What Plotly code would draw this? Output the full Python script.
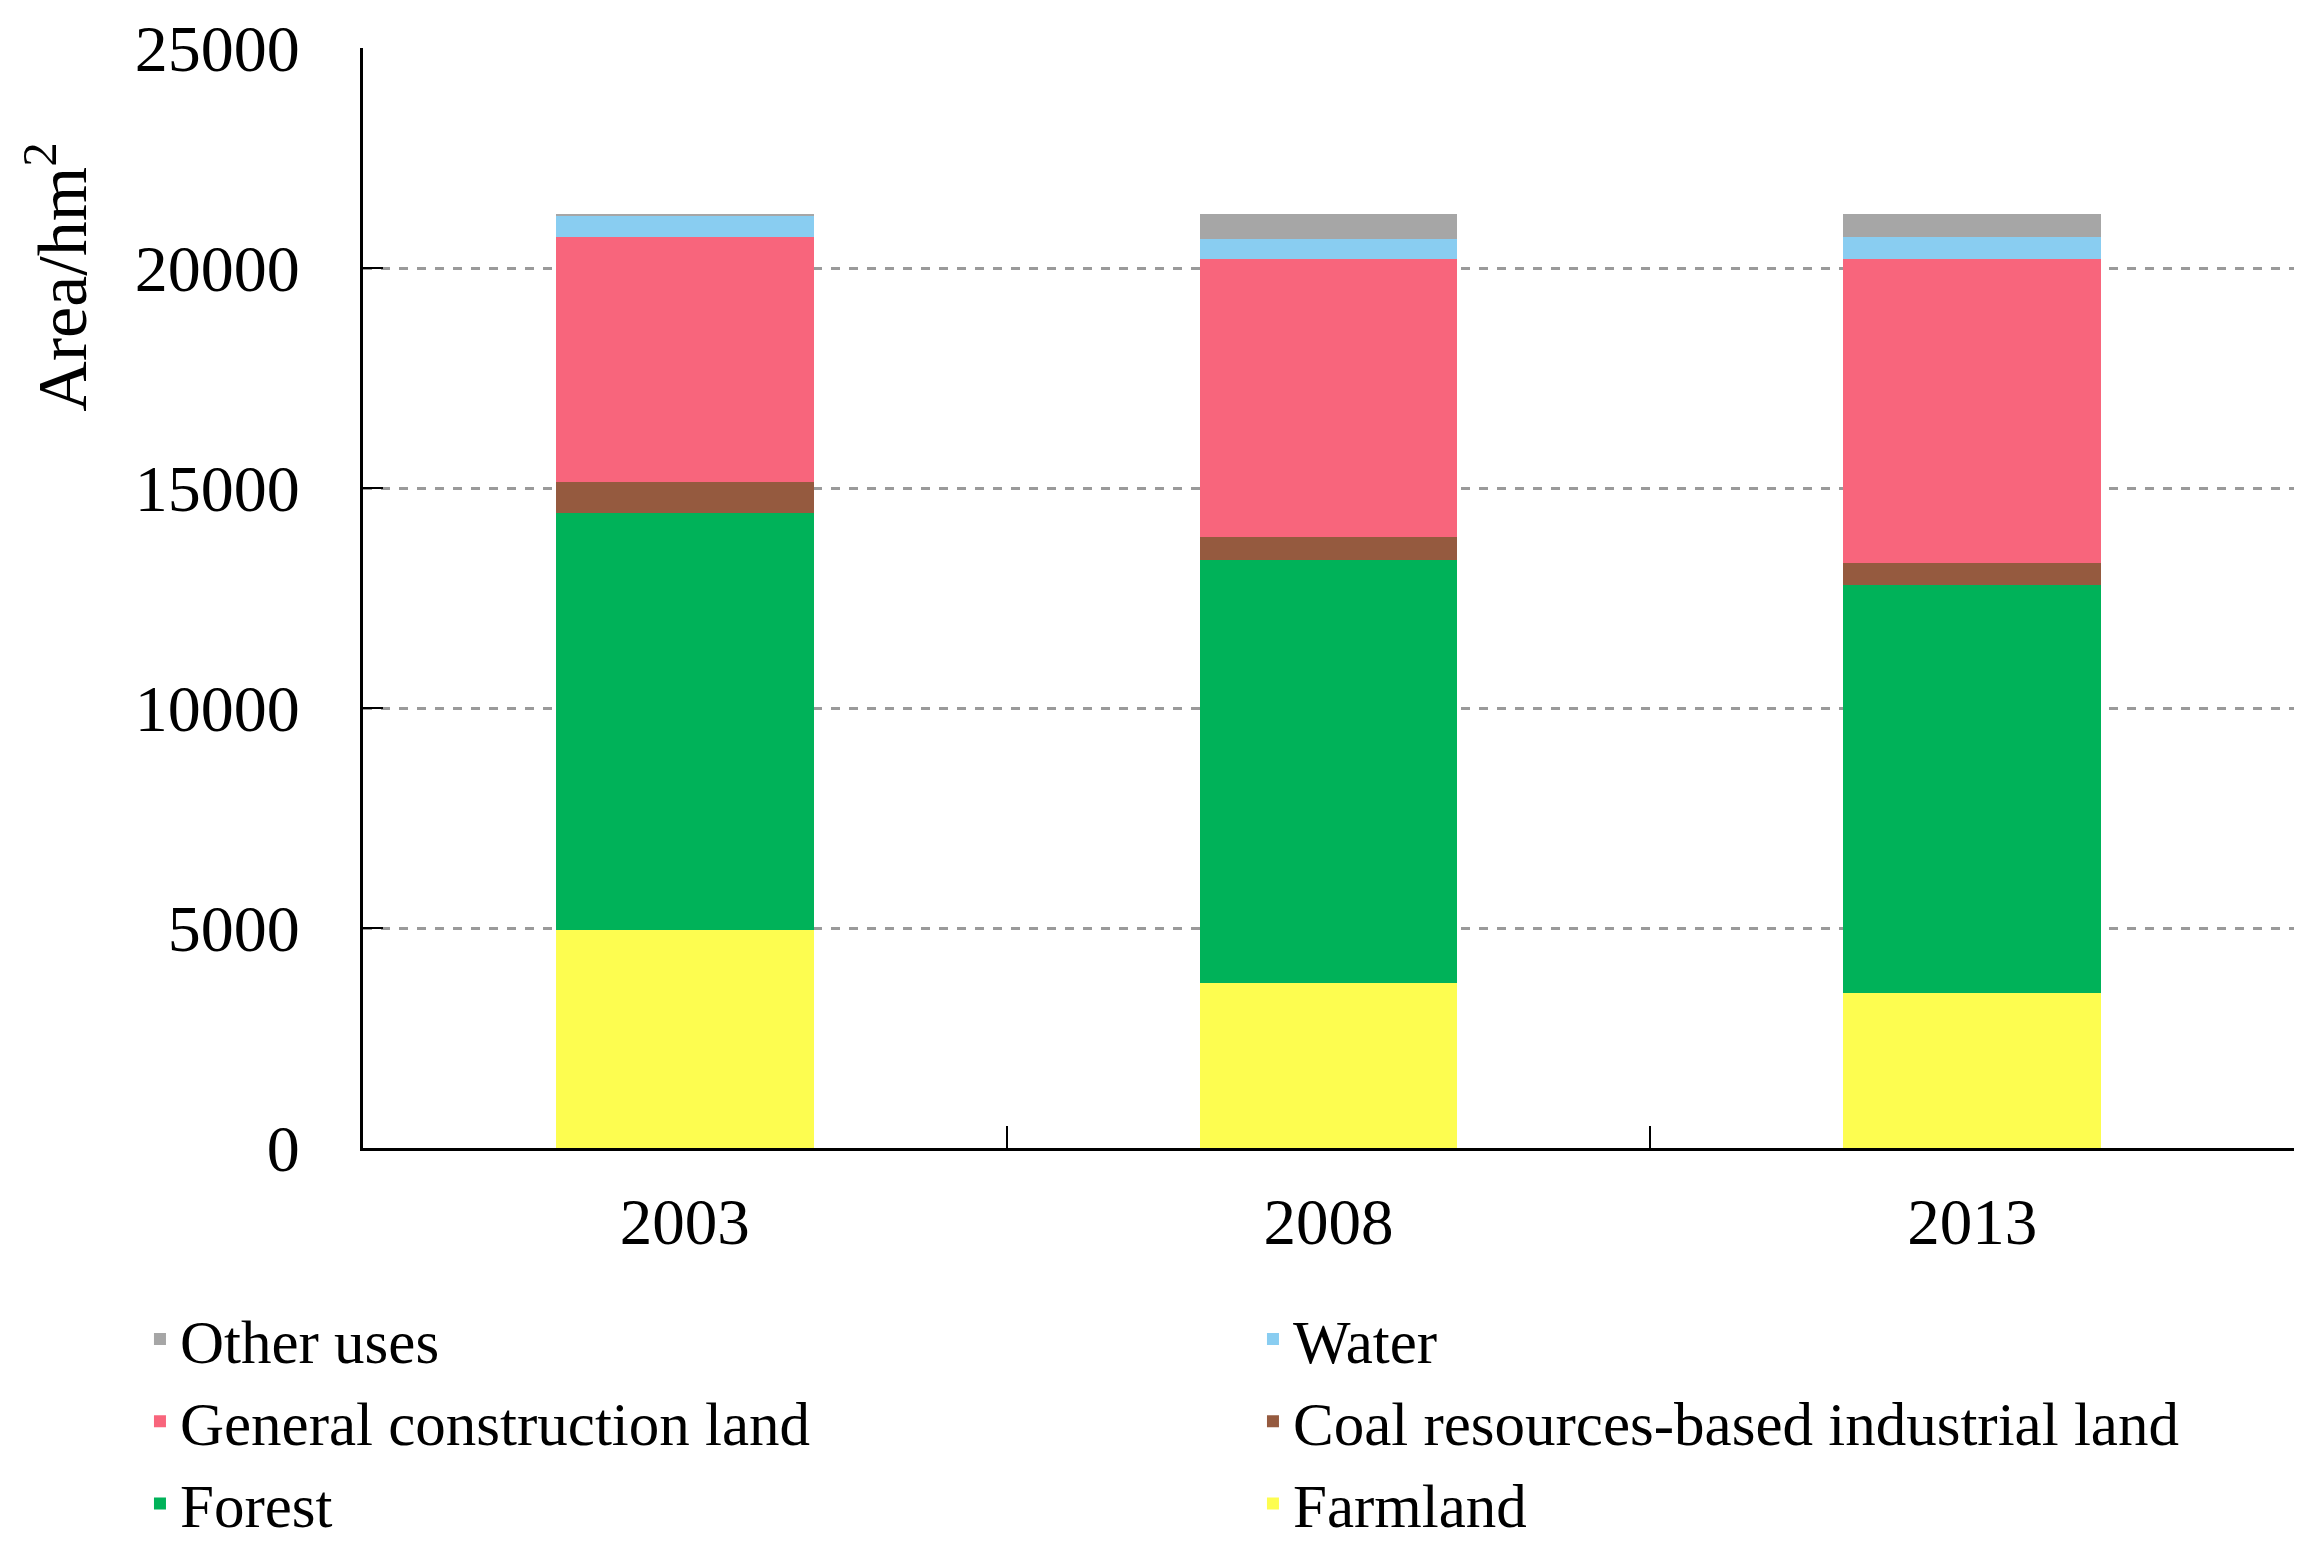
import plotly.graph_objects as go

years = ["2003", "2008", "2013"]
farmland = [4960, 3742, 3530]
forest = [9479, 9622, 9265]
coal = [704, 515, 507]
general = [5568, 6333, 6910]
water = [474, 440, 499]
other = [35, 568, 509]
y_ticks = [0, 5000, 10000, 15000, 20000, 25000]
y_ticklabels = ["0", "5000", "10000", "15000", "20000", "25000"]

series = [
    ("Farmland", farmland, "#FDFD50"),
    ("Forest", forest, "#00B259"),
    ("Coal resources-based industrial land", coal, "#955A3F"),
    ("General construction land", general, "#F8657C"),
    ("Water", water, "#89CDF1"),
    ("Other uses", other, "#A6A6A6"),
]

FONT = "Liberation Serif"
fig = go.Figure()
for name, vals, col in series:
    fig.add_trace(go.Bar(x=years, y=vals, name=name, marker=dict(color=col, line=dict(width=0))))

fig.update_layout(
    width=2318, height=1545,
    barmode="stack", bargap=0.6,
    paper_bgcolor="white", plot_bgcolor="white",
    margin=dict(l=355, r=32, t=40, b=405, autoexpand=False),
    font=dict(family=FONT, size=65, color="black"),
    showlegend=True,
    legend=dict(
        orientation="h", traceorder="reversed",
        x=-0.1155, xanchor="left", y=-0.1316, yanchor="top",
        entrywidth=1068, entrywidthmode="pixels",
        font=dict(family=FONT, size=61, color="black"),
        bgcolor="rgba(0,0,0,0)",
    ),
)
fig.update_xaxes(
    type="category", showline=True, linecolor="black", linewidth=3,
    ticks="inside", tickson="boundaries", ticklen=22, tickwidth=2, tickcolor="black",
    showgrid=False, ticklabelstandoff=15, automargin=False,
    tickfont=dict(family=FONT, size=65, color="black"),
)
fig.update_yaxes(
    range=[0, 25000], tickmode="array", tickvals=y_ticks, ticktext=y_ticklabels,
    showline=True, linecolor="black", linewidth=3,
    ticks="inside", ticklen=20, tickwidth=2, tickcolor="black",
    showgrid=True, gridcolor="#9A9A9A", gridwidth=2.5, griddash="dash",
    zeroline=False, ticklabelstandoff=47, automargin=False,
    tickfont=dict(family=FONT, size=66, color="black"),
)
fig.add_annotation(
    text="Area/hm<sup>2</sup>", xref="paper", yref="paper",
    x=-0.159, y=0.792, xanchor="center", yanchor="middle",
    textangle=-90, showarrow=False,
    font=dict(family=FONT, size=70, color="black"),
)
fig.write_html("out.html")
